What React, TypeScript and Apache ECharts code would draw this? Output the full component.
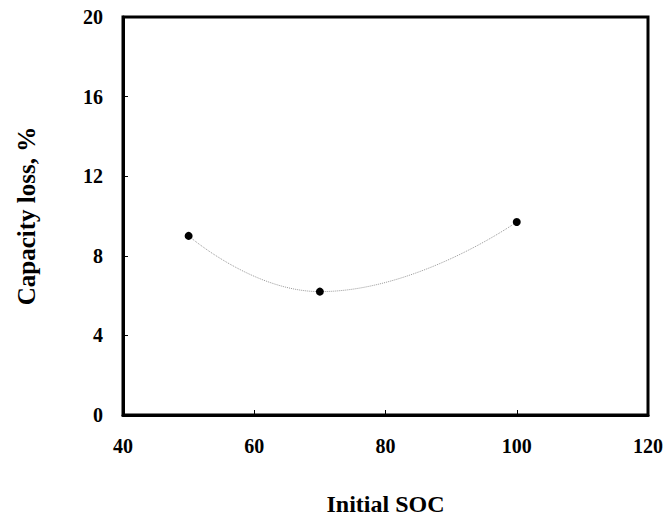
import React, { useEffect, useRef } from "react";
import * as echarts from "echarts";

const socValues = [50, 70, 100];
const capacityLoss = [9.0, 6.2, 9.7];
const xTicks = { min: 40, max: 120, interval: 20 };
const yTicks = { min: 0, max: 20, interval: 4 };

export default function App() {
  const ref = useRef<HTMLDivElement>(null);
  useEffect(() => {
    if (!ref.current) return;
    const chart = echarts.init(ref.current, null, { renderer: "svg" });
    const font = "'Liberation Serif', 'Times New Roman', serif";
    chart.setOption({
      animation: false,
      backgroundColor: "#fff",
      grid: {
        left: 123,
        right: 21,
        top: 17,
        bottom: 110,
        show: true,
        borderColor: "#000",
        borderWidth: 3,
        backgroundColor: "transparent",
      },
      xAxis: {
        type: "value",
        min: xTicks.min,
        max: xTicks.max,
        interval: xTicks.interval,
        name: "Initial SOC",
        nameLocation: "middle",
        nameGap: 77,
        nameTextStyle: { fontFamily: font, fontWeight: "bold", fontSize: 24, color: "#000" },
        axisLine: { show: true, lineStyle: { color: "#000", width: 3 } },
        axisTick: { show: true, inside: true, length: 5, lineStyle: { color: "#000", width: 1 } },
        axisLabel: { fontFamily: font, fontWeight: "bold", fontSize: 20, color: "#000", margin: 21 },
        splitLine: { show: false },
      },
      yAxis: {
        type: "value",
        min: yTicks.min,
        max: yTicks.max,
        interval: yTicks.interval,
        name: "Capacity loss, %",
        nameLocation: "middle",
        nameGap: 84,
        nameTextStyle: { fontFamily: font, fontWeight: "bold", fontSize: 25, color: "#000" },
        axisLine: { show: true, lineStyle: { color: "#000", width: 3 } },
        axisTick: { show: true, inside: true, length: 5, lineStyle: { color: "#000", width: 1 } },
        axisLabel: { fontFamily: font, fontWeight: "bold", fontSize: 20, color: "#000", margin: 20 },
        splitLine: { show: false },
      },
      series: [
        {
          type: "line",
          data: socValues.map((x, i) => [x, capacityLoss[i]]),
          smooth: 0.5,
          symbol: "circle",
          symbolSize: 8,
          itemStyle: { color: "#000" },
          lineStyle: { color: "#999", width: 1, type: "dotted" },
        },
      ],
    });
    return () => chart.dispose();
  }, []);
  return <div ref={ref} style={{ width: 669, height: 525, position: "absolute", left: 0, top: 0 }} />;
}
